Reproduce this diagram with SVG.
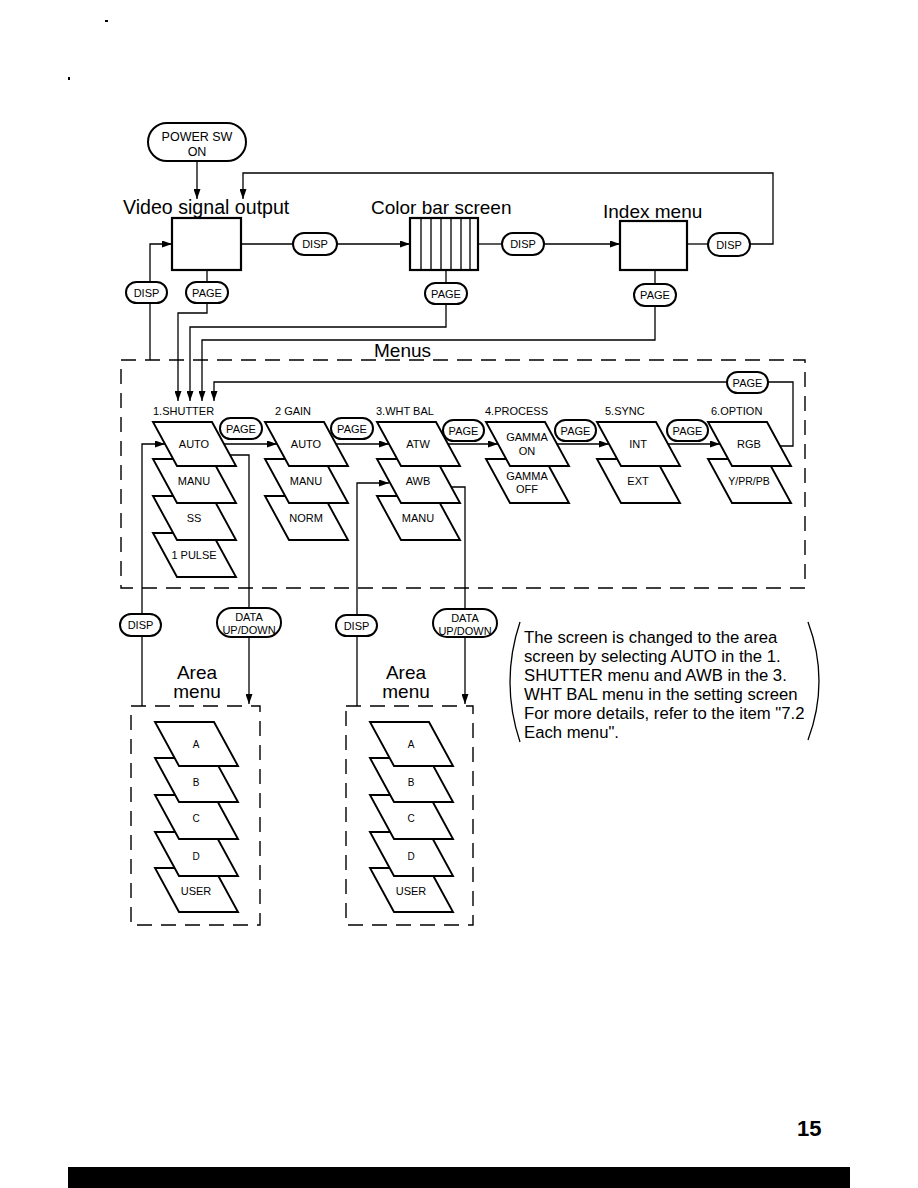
<svg xmlns="http://www.w3.org/2000/svg" xmlns:xlink="http://www.w3.org/1999/xlink" width="918" height="1188" viewBox="0 0 918 1188">
<style>
text{font-family:"Liberation Sans",Arial,sans-serif;fill:#000}
.h{font-size:19px}
.s{font-size:11px;text-anchor:middle}
.c{font-size:11px}
.n{font-size:16.7px}
.pill{fill:#fff;stroke:#000;stroke-width:2}
.box{fill:#fff;stroke:#000;stroke-width:2.2}
.pg{fill:#fff;stroke:#000;stroke-width:1.9}
.ln{fill:none;stroke:#000;stroke-width:1.3}
.dash{fill:none;stroke:#000;stroke-width:1.4;stroke-dasharray:15 9}
</style>
<defs>
<marker id="ah" viewBox="0 0 10 7" refX="10" refY="3.5" markerWidth="10" markerHeight="7" orient="auto" markerUnits="userSpaceOnUse"><path d="M0,0 L10,3.5 L0,7 z" fill="#000"/></marker>
<path id="pgs" d="M0,0 H59 L83,44 H24 Z"/>
</defs>
<rect width="918" height="1188" fill="#fff"/>

<!-- specks -->
<rect x="105" y="20" width="3" height="2" fill="#000"/>
<rect x="68" y="77" width="2" height="3" fill="#000"/>

<!-- containers -->
<g id="menus-frame">
<rect x="121" y="360" width="684" height="228" class="dash"/>
<text class="h" x="374" y="357">Menus</text>
</g>
<g id="area-frame-1"><rect x="131" y="706" width="129" height="219" class="dash"/></g>
<g id="area-frame-2"><rect x="346" y="706" width="127" height="219" class="dash"/></g>

<!-- connectors -->
<g id="connectors">
<path class="ln" d="M197,161 V199" marker-end="url(#ah)"/>
<path class="ln" d="M750,244 H773 V173 H243 V199" marker-end="url(#ah)"/>
<path class="ln" d="M241,244 H293"/>
<path class="ln" d="M337,244 H410" marker-end="url(#ah)"/>
<path class="ln" d="M478,244 H502"/>
<path class="ln" d="M544,244 H620" marker-end="url(#ah)"/>
<path class="ln" d="M687,244 H708"/>
<path class="ln" d="M150,282 V244 H172" marker-end="url(#ah)"/>
<path class="ln" d="M150,303 V360"/>
<path class="ln" d="M207,270 V282"/>
<path class="ln" d="M207,303 V313 H178 V401" marker-end="url(#ah)"/>
<path class="ln" d="M446,270 V283"/>
<path class="ln" d="M446,304 V327 H190 V401" marker-end="url(#ah)"/>
<path class="ln" d="M655,270 V284"/>
<path class="ln" d="M655,306 V340 H202 V401" marker-end="url(#ah)"/>
<path class="ln" d="M727,382 H214 V401" marker-end="url(#ah)"/>
<path class="ln" d="M768,382 H793 V446 H780"/>
<path class="ln" d="M223,444 H277" marker-end="url(#ah)"/>
<path class="ln" d="M335,444 H389" marker-end="url(#ah)"/>
<path class="ln" d="M447,444 H498" marker-end="url(#ah)"/>
<path class="ln" d="M556,444 H609" marker-end="url(#ah)"/>
<path class="ln" d="M667,444 H720" marker-end="url(#ah)"/>
<path class="ln" d="M142,614 V444 H165" marker-end="url(#ah)"/>
<path class="ln" d="M229,455 H249 V608"/>
<path class="ln" d="M357,615 V483 H389" marker-end="url(#ah)"/>
<path class="ln" d="M450,487 H465 V609"/>
<path class="ln" d="M142,636 V706"/>
<path class="ln" d="M249,637 V704" marker-end="url(#ah)"/>
<path class="ln" d="M357,636 V706"/>
<path class="ln" d="M465,637 V704" marker-end="url(#ah)"/>
</g>

<!-- top nodes -->
<g id="power-sw">
<rect class="pill" x="148" y="123" width="98" height="38" rx="19"/>
<text class="s" style="font-size:12.5px" x="197" y="141">POWER SW</text>
<text class="s" style="font-size:12.5px" x="197" y="156">ON</text>
</g>
<g id="video-output">
<text class="h" style="font-size:19.6px" x="123" y="214">Video signal output</text>
<rect class="box" x="172" y="218" width="69" height="52"/>
</g>
<g id="color-bar">
<text class="h" x="371" y="214">Color bar screen</text>
<rect class="box" x="410" y="218" width="68" height="52"/>
<path class="ln" d="M421,218 V270 M431,218 V270 M441,218 V270 M451,218 V270 M461,218 V270 M470,218 V270"/>
</g>
<g id="index-menu">
<text class="h" x="603" y="218">Index menu</text>
<rect class="box" x="620" y="221" width="67" height="49"/>
</g>
<g id="disp-1"><rect class="pill" x="293" y="233" width="44" height="22" rx="11"/><text class="s" x="315" y="248">DISP</text></g>
<g id="disp-2"><rect class="pill" x="502" y="233" width="42" height="22" rx="11"/><text class="s" x="523" y="248">DISP</text></g>
<g id="disp-3"><rect class="pill" x="708" y="233" width="42" height="23" rx="11.5"/><text class="s" x="729" y="248.5">DISP</text></g>
<g id="disp-left"><rect class="pill" x="126" y="282" width="41" height="21" rx="10.5"/><text class="s" x="146.5" y="296.5">DISP</text></g>
<g id="page-video"><rect class="pill" x="186" y="282" width="42" height="21" rx="10.5"/><text class="s" x="207" y="296.5">PAGE</text></g>
<g id="page-color"><rect class="pill" x="425" y="283" width="42" height="21" rx="10.5"/><text class="s" x="446" y="297.5">PAGE</text></g>
<g id="page-index"><rect class="pill" x="634" y="284" width="42" height="22" rx="11"/><text class="s" x="655" y="299">PAGE</text></g>
<g id="page-loop"><rect class="pill" x="727" y="372" width="41" height="21" rx="10.5"/><text class="s" x="747.5" y="386.5">PAGE</text></g>

<!-- menu row pills -->
<g id="page-12"><rect class="pill" x="220" y="418" width="42" height="21" rx="10.5"/><text class="s" x="241" y="432.5">PAGE</text></g>
<g id="page-23"><rect class="pill" x="331" y="418" width="42" height="21" rx="10.5"/><text class="s" x="352" y="432.5">PAGE</text></g>
<g id="page-34"><rect class="pill" x="443" y="420" width="41" height="21" rx="10.5"/><text class="s" x="463.5" y="434.5">PAGE</text></g>
<g id="page-45"><rect class="pill" x="555" y="420" width="41" height="21" rx="10.5"/><text class="s" x="575.5" y="434.5">PAGE</text></g>
<g id="page-56"><rect class="pill" x="667" y="420" width="41" height="21" rx="10.5"/><text class="s" x="687.5" y="434.5">PAGE</text></g>

<!-- column titles -->
<g id="titles">
<text class="c" x="153" y="415">1.SHUTTER</text>
<text class="c" x="275" y="415">2 GAIN</text>
<text class="c" x="376" y="415">3.WHT BAL</text>
<text class="c" x="485" y="415">4.PROCESS</text>
<text class="c" x="605" y="415">5.SYNC</text>
<text class="c" x="711" y="415">6.OPTION</text>
</g>

<!-- 1.SHUTTER -->
<g id="m1-1pulse"><use href="#pgs" class="pg" x="153" y="533"/><text class="s" x="194" y="559">1 PULSE</text></g>
<g id="m1-ss"><use href="#pgs" class="pg" x="153" y="496"/><text class="s" x="194" y="522">SS</text></g>
<g id="m1-manu"><use href="#pgs" class="pg" x="153" y="459"/><text class="s" x="194" y="485">MANU</text></g>
<g id="m1-auto"><use href="#pgs" class="pg" x="153" y="422"/><text class="s" x="194" y="448">AUTO</text></g>
<!-- 2 GAIN -->
<g id="m2-norm"><use href="#pgs" class="pg" x="265" y="496"/><text class="s" x="306" y="522">NORM</text></g>
<g id="m2-manu"><use href="#pgs" class="pg" x="265" y="459"/><text class="s" x="306" y="485">MANU</text></g>
<g id="m2-auto"><use href="#pgs" class="pg" x="265" y="422"/><text class="s" x="306" y="448">AUTO</text></g>
<!-- 3.WHT BAL -->
<g id="m3-manu"><use href="#pgs" class="pg" x="377" y="496"/><text class="s" x="418" y="522">MANU</text></g>
<g id="m3-awb"><use href="#pgs" class="pg" x="377" y="459"/><text class="s" x="418" y="485">AWB</text></g>
<g id="m3-atw"><use href="#pgs" class="pg" x="377" y="422"/><text class="s" x="418" y="448">ATW</text></g>
<!-- 4.PROCESS -->
<g id="m4-gamma-off"><use href="#pgs" class="pg" x="486" y="459"/><text class="s" x="527" y="480">GAMMA</text><text class="s" x="527" y="493">OFF</text></g>
<g id="m4-gamma-on"><use href="#pgs" class="pg" x="486" y="422"/><text class="s" x="527" y="441">GAMMA</text><text class="s" x="527" y="455">ON</text></g>
<!-- 5.SYNC -->
<g id="m5-ext"><use href="#pgs" class="pg" x="597" y="459"/><text class="s" x="638" y="485">EXT</text></g>
<g id="m5-int"><use href="#pgs" class="pg" x="597" y="422"/><text class="s" x="638" y="448">INT</text></g>
<!-- 6.OPTION -->
<g id="m6-ypb"><use href="#pgs" class="pg" x="708" y="459"/><text class="s" style="font-size:10.5px" x="749" y="485">Y/PR/PB</text></g>
<g id="m6-rgb"><use href="#pgs" class="pg" x="708" y="422"/><text class="s" x="749" y="448">RGB</text></g>

<!-- bottom pills -->
<g id="disp-a"><rect class="pill" x="120" y="614" width="41" height="22" rx="11"/><text class="s" x="140.5" y="629">DISP</text></g>
<g id="data-a"><rect class="pill" x="217" y="608" width="64" height="29" rx="14.5"/><text class="s" x="249" y="621">DATA</text><text class="s" x="249" y="634">UP/DOWN</text></g>
<g id="disp-b"><rect class="pill" x="336" y="615" width="41" height="21" rx="10.5"/><text class="s" x="356.5" y="629.5">DISP</text></g>
<g id="data-b"><rect class="pill" x="433" y="609" width="64" height="28" rx="14"/><text class="s" x="465" y="622">DATA</text><text class="s" x="465" y="634.5">UP/DOWN</text></g>

<g id="area-label-1"><text class="h" text-anchor="middle" x="197" y="679">Area</text><text class="h" text-anchor="middle" x="197" y="698">menu</text></g>
<g id="area-label-2"><text class="h" text-anchor="middle" x="406" y="679">Area</text><text class="h" text-anchor="middle" x="406" y="698">menu</text></g>

<!-- area menu 1 -->
<g id="a1-user"><use href="#pgs" class="pg" x="155" y="868"/><text class="s" x="196" y="895">USER</text></g>
<g id="a1-d"><use href="#pgs" class="pg" x="155" y="832"/><text class="s" style="font-size:10px" x="196" y="860">D</text></g>
<g id="a1-c"><use href="#pgs" class="pg" x="155" y="795"/><text class="s" style="font-size:10px" x="196" y="822">C</text></g>
<g id="a1-b"><use href="#pgs" class="pg" x="155" y="758"/><text class="s" style="font-size:10px" x="196" y="786">B</text></g>
<g id="a1-a"><use href="#pgs" class="pg" x="155" y="722"/><text class="s" style="font-size:10px" x="196" y="748">A</text></g>
<!-- area menu 2 -->
<g id="a2-user"><use href="#pgs" class="pg" x="370" y="868"/><text class="s" x="411" y="895">USER</text></g>
<g id="a2-d"><use href="#pgs" class="pg" x="370" y="832"/><text class="s" style="font-size:10px" x="411" y="860">D</text></g>
<g id="a2-c"><use href="#pgs" class="pg" x="370" y="795"/><text class="s" style="font-size:10px" x="411" y="822">C</text></g>
<g id="a2-b"><use href="#pgs" class="pg" x="370" y="758"/><text class="s" style="font-size:10px" x="411" y="786">B</text></g>
<g id="a2-a"><use href="#pgs" class="pg" x="370" y="722"/><text class="s" style="font-size:10px" x="411" y="748">A</text></g>

<!-- note -->
<g id="note">
<path class="ln" d="M520,622 Q500,682 520,742"/>
<path class="ln" d="M808,622 Q830,681 808,740"/>
<text class="n" x="524" y="643">The screen is changed to the area</text>
<text class="n" x="524" y="662">screen by selecting AUTO in the 1.</text>
<text class="n" x="524" y="681">SHUTTER menu and AWB in the 3.</text>
<text class="n" x="524" y="700">WHT BAL menu in the setting screen</text>
<text class="n" x="524" y="719">For more details, refer to the item "7.2</text>
<text class="n" x="524" y="738">Each menu".</text>
</g>

<!-- page footer -->
<g id="footer">
<text x="797" y="1136" style="font-size:22px;font-weight:bold">15</text>
<rect x="68" y="1167" width="782" height="21" fill="#000"/>
</g>
</svg>
